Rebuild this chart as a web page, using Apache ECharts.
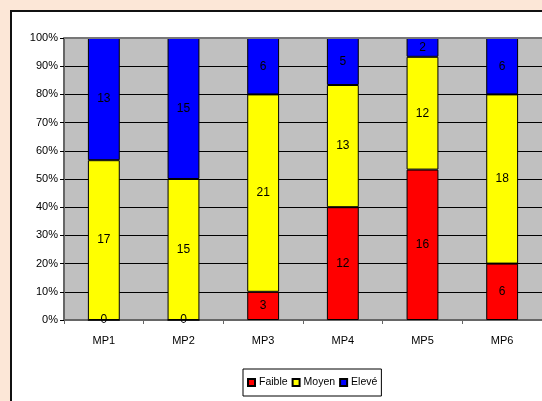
<!DOCTYPE html>
<html>
<head>
<meta charset="utf-8">
<script src="https://cdn.jsdelivr.net/npm/echarts@6/dist/echarts.min.js"></script>
<style>
  html, body { margin: 0; padding: 0; width: 542px; height: 401px; overflow: hidden; background: #fce7d7; }
  #frame { position: absolute; left: 10px; top: 10px; width: 560px; height: 420px; background: #fff;
           border-left: 2px solid #111; border-top: 2px solid #111; }
  #chart { position: absolute; left: 0; top: 0; width: 542px; height: 401px; }
</style>
</head>
<body>
<div id="frame"></div>
<div id="chart"></div>
<script>
// Number of answers per level for each MP
const categories = ['MP1', 'MP2', 'MP3', 'MP4', 'MP5', 'MP6'];
const faible = [0, 0, 3, 12, 16, 6];
const moyen = [17, 15, 21, 13, 12, 18];
const eleve = [13, 15, 6, 5, 2, 6];
const yTicks = [0, 10, 20, 30, 40, 50, 60, 70, 80, 90, 100];

const totals = categories.map((_, i) => faible[i] + moyen[i] + eleve[i]);
const share = (arr) => arr.map((v, i) => ({ value: v / totals[i] * 100, count: v }));

const FONT = '"Liberation Sans Narrow", "Liberation Sans", Arial, sans-serif';

function series(name, arr, color) {
  return {
    name: name,
    type: 'bar',
    stack: 'total',
    barWidth: '40%',
    data: share(arr),
    itemStyle: { color: color, borderColor: '#000', borderWidth: 1 },
    label: {
      show: true,
      position: 'inside',
      color: '#000',
      fontFamily: FONT,
      fontSize: 12,
      formatter: (p) => String(p.data.count)
    }
  };
}

const chart = echarts.init(document.getElementById('chart'), null, { renderer: 'canvas' });
chart.setOption({
  animation: false,
  backgroundColor: 'transparent',
  grid: {
    left: 64, top: 38, right: -4, bottom: 81,
    show: true, backgroundColor: '#c0c0c0', borderColor: '#777', borderWidth: 0,
    containLabel: false
  },
  legend: {
    left: 243, top: 369,
    padding: [8, 4, 8, 4],
    itemWidth: 7, itemHeight: 7, itemGap: 4,
    icon: 'rect',
    backgroundColor: '#fff', borderColor: '#000', borderWidth: 1,
    textStyle: { fontFamily: FONT, fontSize: 10.5, color: '#000', padding: [0, 0, 0, -1] },
    data: ['Faible', 'Moyen', 'Elevé']
  },
  xAxis: {
    type: 'category',
    data: categories,
    axisLine: { show: true, lineStyle: { color: '#666', width: 2 } },
    axisTick: { show: true, inside: false, length: 4, alignWithLabel: false, lineStyle: { color: '#666' } },
    axisLabel: { fontFamily: FONT, fontSize: 11, color: '#000', margin: 15 }
  },
  yAxis: {
    type: 'value',
    min: yTicks[0], max: yTicks[yTicks.length - 1], interval: 10,
    axisLine: { show: true, lineStyle: { color: '#666', width: 2 } },
    axisTick: { show: true, length: 4, lineStyle: { color: '#000' } },
    axisLabel: { fontFamily: FONT, fontSize: 11, color: '#000', margin: 6, formatter: '{value}%' },
    splitLine: { show: true, lineStyle: { color: '#000', width: 1 } }
  },
  graphic: [{
    type: 'line', shape: { x1: 64, y1: 38, x2: 542, y2: 38 },
    style: { stroke: '#777', lineWidth: 2 }, z: 10
  }],
  series: [
    series('Faible', faible, '#ff0000'),
    series('Moyen', moyen, '#ffff00'),
    series('Elevé', eleve, '#0000ff')
  ]
});
</script>
</body>
</html>
